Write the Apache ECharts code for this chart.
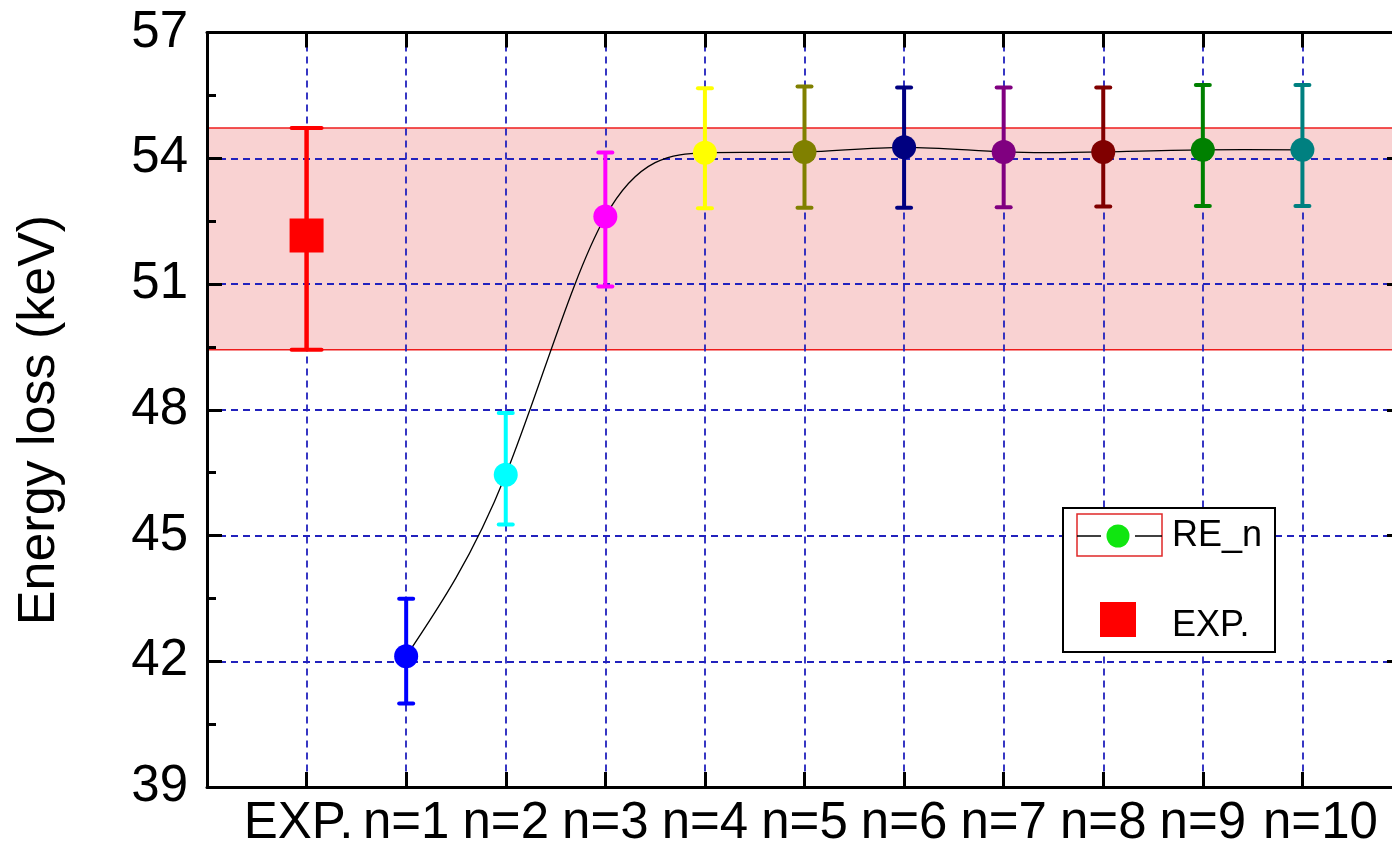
<!DOCTYPE html>
<html>
<head>
<meta charset="utf-8">
<script src="https://cdn.jsdelivr.net/npm/echarts@6/dist/echarts.min.js"></script>
<style>
  html, body { margin: 0; padding: 0; background: #fff; }
  #chart { width: 1392px; height: 853px; }
</style>
</head>
<body>
<div id="chart"></div>
<script>
// Category labels along the bottom axis (positions 1..11)
const categories = ['EXP.', 'n=1', 'n=2', 'n=3', 'n=4', 'n=5', 'n=6', 'n=7', 'n=8', 'n=9', 'n=10'];
// Energy loss (keV) per category
const energyLoss = [52.16, 42.12, 46.45, 52.61, 54.13, 54.15, 54.26, 54.15, 54.15, 54.20, 54.20];
// Error-bar limits
const errHigh = [54.72, 43.49, 47.92, 54.14, 55.67, 55.71, 55.69, 55.69, 55.69, 55.75, 55.75];
const errLow  = [49.43, 40.99, 45.26, 50.94, 52.81, 52.82, 52.82, 52.83, 52.85, 52.86, 52.86];
// Experimental band
const expBand = [49.43, 54.72];
// Y axis ticks
const yTicks = [39, 42, 45, 48, 51, 54, 57];
// Point colours
const pointColors = ['#ff0000', '#0000ff', '#00ffff', '#ff00ff', '#ffff00', '#808000',
                     '#000080', '#800080', '#800000', '#008000', '#008080'];

const FONT = '"Liberation Sans", Arial, sans-serif';
const LABEL_SIZE = 51;

const chart = echarts.init(document.getElementById('chart'), null, { renderer: 'canvas' });

const points = energyLoss.map((v, i) => ({
  value: [i + 1, v],
  symbol: i === 0 ? 'rect' : 'circle',
  symbolSize: i === 0 ? 34 : 24,
  itemStyle: { color: pointColors[i], opacity: 1 }
}));

const errData = energyLoss.map((v, i) => [i + 1, errLow[i], errHigh[i]]);
// RE_n points n=1..n=10 joined by a natural cubic spline
const curveData = energyLoss.slice(1).map((v, i) => [i + 2, v]);

// Slopes of the natural cubic spline through curveData (Thomas algorithm)
function naturalSplineSlopes(pts) {
  const n = pts.length;
  const h = [], a = [], b = [], c = [], d = [];
  for (let i = 0; i < n - 1; i++) h.push(pts[i + 1][0] - pts[i][0]);
  const M = new Array(n).fill(0);
  const m = n - 2;
  for (let k = 0; k < m; k++) {
    const i = k + 1;
    a.push(h[i - 1]); b.push(2 * (h[i - 1] + h[i])); c.push(h[i]);
    d.push(6 * ((pts[i + 1][1] - pts[i][1]) / h[i] - (pts[i][1] - pts[i - 1][1]) / h[i - 1]));
  }
  for (let k = 1; k < m; k++) {
    const w = a[k] / b[k - 1];
    b[k] -= w * c[k - 1];
    d[k] -= w * d[k - 1];
  }
  const sol = new Array(m).fill(0);
  for (let k = m - 1; k >= 0; k--) sol[k] = (d[k] - (k < m - 1 ? c[k] * sol[k + 1] : 0)) / b[k];
  for (let k = 0; k < m; k++) M[k + 1] = sol[k];
  const s = [];
  for (let i = 0; i < n; i++) {
    if (i < n - 1) {
      s.push((pts[i + 1][1] - pts[i][1]) / h[i] - h[i] * (2 * M[i] + M[i + 1]) / 6);
    } else {
      s.push((pts[i][1] - pts[i - 1][1]) / h[i - 1] + h[i - 1] * (M[i - 1] + 2 * M[i]) / 6);
    }
  }
  return s;
}
const curveSlopes = naturalSplineSlopes(curveData);

// One cubic segment between curve point i and i+1, as a Bezier in pixel space
function splineSegment(params, api) {
  const i = params.dataIndex;
  if (i >= curveData.length - 1) return null;
  const [x1, y1] = curveData[i];
  const [x2, y2] = curveData[i + 1];
  const h = (x2 - x1) / 3;
  const p1 = api.coord([x1, y1]);
  const p2 = api.coord([x2, y2]);
  const c1 = api.coord([x1 + h, y1 + h * curveSlopes[i]]);
  const c2 = api.coord([x2 - h, y2 - h * curveSlopes[i + 1]]);
  return {
    type: 'bezierCurve',
    shape: { x1: p1[0], y1: p1[1], x2: p2[0], y2: p2[1], cpx1: c1[0], cpy1: c1[1], cpx2: c2[0], cpy2: c2[1] },
    style: { stroke: '#000', lineWidth: 1.3, fill: null }
  };
}

const gridLine = { show: true, lineStyle: { color: '#2222bd', width: 1.8, type: [7, 5] } };
const axisLine = { show: true, onZero: false, lineStyle: { color: '#000', width: 3 } };
const tickStyle = { color: '#000', width: 3 };
const labelFont = { fontSize: LABEL_SIZE, fontFamily: FONT, color: '#000' };

const option = {
  backgroundColor: '#fff',
  animation: false,
  grid: { left: 207, right: -10, top: 32.5, bottom: 66, outerBoundsMode: 'none', containLabel: false },
  xAxis: [
    {
      type: 'value', min: 0, max: 12, interval: 1, position: 'bottom',
      axisLine, splitLine: gridLine,
      axisTick: { show: true, inside: true, length: 15, lineStyle: tickStyle },
      axisLabel: {
        show: true, margin: 11, ...labelFont,
        formatter: v => {
          const t = categories[v - 1];
          if (!t) return '';
          if (v === 1) return '{first|' + t + '}';
          if (v === categories.length) return '{last|' + t + '}';
          return t;
        },
        rich: {
          first: { ...labelFont, padding: [0, 16, 0, 0] },
          last: { ...labelFont, padding: [0, 0, 0, 36] }
        }
      }
    },
    {
      type: 'value', min: 0, max: 12, interval: 1, position: 'top',
      axisLine, splitLine: { show: false },
      axisTick: { show: true, inside: true, length: 15, lineStyle: tickStyle },
      axisLabel: { show: false }
    }
  ],
  yAxis: [
    {
      type: 'value', min: yTicks[0], max: yTicks[yTicks.length - 1], interval: 3, position: 'left',
      axisLine, splitLine: gridLine,
      axisTick: { show: true, inside: true, length: 15, lineStyle: tickStyle },
      minorTick: { show: true, splitNumber: 2, length: 9, lineStyle: tickStyle },
      axisLabel: { show: true, margin: 19, ...labelFont }
    },
    {
      type: 'value', min: yTicks[0], max: yTicks[yTicks.length - 1], interval: 3, position: 'right',
      axisLine, splitLine: { show: false },
      axisTick: { show: true, inside: true, length: 15, lineStyle: tickStyle },
      minorTick: { show: true, splitNumber: 2, length: 9, lineStyle: tickStyle },
      axisLabel: { show: false }
    }
  ],
  series: [
    {
      // experimental range band, drawn beneath the grid lines
      type: 'custom', z: -5, silent: true,
      data: [[expBand[0], expBand[1]]],
      renderItem: (params, api) => {
        const lo = api.value(0), hi = api.value(1);
        const pTop = api.coord([0, hi]);
        const pBot = api.coord([12, lo]);
        return {
          type: 'group',
          children: [
            { type: 'rect', shape: { x: pTop[0], y: pTop[1], width: pBot[0] - pTop[0], height: pBot[1] - pTop[1] },
              style: { fill: '#f9d2d2' } },
            { type: 'line', shape: { x1: pTop[0], y1: pTop[1], x2: pBot[0], y2: pTop[1] },
              style: { stroke: '#ee1c1c', lineWidth: 1.5 } },
            { type: 'line', shape: { x1: pTop[0], y1: pBot[1], x2: pBot[0], y2: pBot[1] },
              style: { stroke: '#ee1c1c', lineWidth: 1.5 } }
          ]
        };
      }
    },
    {
      // smooth connecting curve through n=1..n=10
      type: 'custom', data: curveData, silent: true, z: 2,
      renderItem: splineSegment
    },
    {
      // vertical error bars with caps
      type: 'custom', data: errData, silent: true, z: 3,
      renderItem: (params, api) => {
        const x = api.value(0);
        const top = api.coord([x, api.value(2)]);
        const bot = api.coord([x, api.value(1)]);
        const i = params.dataIndex;
        const color = pointColors[i];
        const cap = i === 0 ? 15 : 7;
        return {
          type: 'group',
          children: [
            { type: 'line', shape: { x1: top[0], y1: top[1], x2: bot[0], y2: bot[1] },
              style: { stroke: color, lineWidth: i === 0 ? 4.5 : 4 } },
            { type: 'line', shape: { x1: top[0] - cap, y1: top[1], x2: top[0] + cap, y2: top[1] },
              style: { stroke: color, lineWidth: 4, lineCap: 'round' } },
            { type: 'line', shape: { x1: bot[0] - cap, y1: bot[1], x2: bot[0] + cap, y2: bot[1] },
              style: { stroke: color, lineWidth: 4, lineCap: 'round' } }
          ]
        };
      }
    },
    {
      type: 'scatter', data: points, silent: true, z: 4,
      itemStyle: { opacity: 1 }
    }
  ],
  graphic: [
    {
      type: 'text', x: 40, y: 420, rotation: Math.PI / 2, z: 100,
      style: { text: 'Energy loss (keV)', font: '52px ' + FONT, fill: '#000', align: 'center', verticalAlign: 'middle' }
    },
    // legend box
    { type: 'rect', z: 100, shape: { x: 1063, y: 508, width: 212, height: 144 },
      style: { fill: '#fff', stroke: '#000', lineWidth: 2 } },
    { type: 'rect', z: 101, shape: { x: 1077, y: 514, width: 85, height: 42 },
      style: { fill: 'none', stroke: '#e02828', lineWidth: 1.5 } },
    { type: 'line', z: 101, shape: { x1: 1077, y1: 536, x2: 1101, y2: 536 },
      style: { stroke: '#000', lineWidth: 1.5 } },
    { type: 'line', z: 101, shape: { x1: 1135, y1: 536, x2: 1162, y2: 536 },
      style: { stroke: '#000', lineWidth: 1.5 } },
    { type: 'circle', z: 101, shape: { cx: 1118, cy: 536, r: 11.5 },
      style: { fill: '#10e610' } },
    { type: 'text', z: 101, x: 1172, y: 536,
      style: { text: 'RE_n', font: '36px ' + FONT, fill: '#000', align: 'left', verticalAlign: 'middle' } },
    { type: 'rect', z: 101, shape: { x: 1100, y: 602, width: 36, height: 35 },
      style: { fill: '#ff0000' } },
    { type: 'text', z: 101, x: 1172, y: 626,
      style: { text: 'EXP.', font: '36px ' + FONT, fill: '#000', align: 'left', verticalAlign: 'middle' } }
  ]
};

chart.setOption(option);
</script>
</body>
</html>
